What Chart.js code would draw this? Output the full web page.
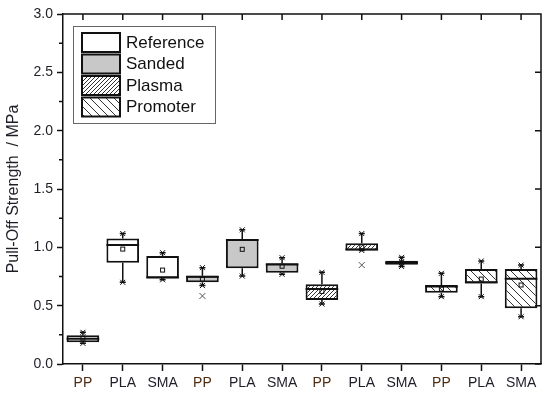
<!DOCTYPE html>
<html>
<head>
<meta charset="utf-8">
<script src="https://cdn.jsdelivr.net/npm/chart.js@4.4.0/dist/chart.umd.min.js"></script>
<style>
  html, body { margin: 0; padding: 0; background: #fff; }
  #wrap { width: 550px; height: 396px; }
</style>
</head>
<body>
<div id="wrap"><canvas id="chart" width="550" height="396"></canvas></div>
<script>
// categories along the x axis, 3 substrates per treatment
const categories = ['PP', 'PLA', 'SMA', 'PP', 'PLA', 'SMA', 'PP', 'PLA', 'SMA', 'PP', 'PLA', 'SMA']
const treatments = ['Reference', 'Sanded', 'Plasma', 'Promoter']

// box statistics (MPa)
const q1 = [0.186, 0.868, 0.734, 0.700, 0.820, 0.783, 0.548, 0.973, 0.851, 0.611, 0.690, 0.477]
const q3 = [0.247, 1.075, 0.925, 0.757, 1.071, 0.863, 0.683, 1.036, 0.885, 0.677, 0.815, 0.815]
const median = [0.217, 1.020, 0.742, 0.748, 1.063, 0.852, 0.643, 0.982, 0.868, 0.665, 0.700, 0.730]
const mean = [0.222, 0.985, 0.805, 0.726, 0.983, 0.838, 0.622, 1.005, 0.868, 0.642, 0.728, 0.677]
const whiskerMax = [0.272, 1.118, 0.954, 0.826, 1.150, 0.911, 0.786, 1.118, 0.914, 0.777, 0.883, 0.848]
const whiskerMin = [0.177, 0.700, 0.722, 0.672, 0.754, 0.769, 0.514, 0.973, 0.836, 0.577, 0.577, 0.405]
const outliers = [[], [], [], [0.583], [], [], [], [0.848], [], [], [], []]

const yTicks = [0, 0.5, 1.0, 1.5, 2.0, 2.5, 3.0]

function hatch(dir, step) {
    const c = document.createElement('canvas')
    c.width = step; c.height = step
    const g = c.getContext('2d')
    g.fillStyle = '#fff'
    g.fillRect(0, 0, step, step)
    g.strokeStyle = '#333'
    g.lineWidth = 1
    g.beginPath()
    for (let k = -1; k <= 1; k++) {
        if (dir === '/') {
            g.moveTo(k * step, step); g.lineTo(k * step + step, 0)
        } else {
            g.moveTo(k * step, 0); g.lineTo(k * step + step, step)
        }
    }
    g.stroke()
    return document.getElementById('chart').getContext('2d').createPattern(c, 'repeat')
}

const fills = ['#ffffff', '#c8c8c8', hatch('/', 4), hatch('\\', 8)]

const datasets = treatments.map((name, t) => ({
    label: name,
    data: categories.map((c, i) => Math.floor(i / 3) === t ? [q1[i], q3[i]] : null),
    backgroundColor: fills[t],
    borderColor: '#111',
    borderWidth: 2,
    borderSkipped: false,
    grouped: false,
    barPercentage: 0.82,
    categoryPercentage: 1
}))

function cross(g, x, y, s) {
    g.beginPath()
    g.moveTo(x - s, y - s); g.lineTo(x + s, y + s)
    g.moveTo(x + s, y - s); g.lineTo(x - s, y + s)
    g.stroke()
}

const boxExtras = {
    id: 'boxExtras',
    afterDatasetsDraw(chart) {
        const g = chart.ctx, xs = chart.scales.x, ys = chart.scales.y
        const half = xs.width / categories.length * 0.82 / 2
        g.save()
        g.strokeStyle = '#111'
        categories.forEach((c, i) => {
            const x = xs.getPixelForValue(i)
            // whiskers
            g.lineWidth = 1.5
            g.beginPath()
            g.moveTo(x, ys.getPixelForValue(q3[i])); g.lineTo(x, ys.getPixelForValue(whiskerMax[i]))
            g.moveTo(x, ys.getPixelForValue(q1[i])); g.lineTo(x, ys.getPixelForValue(whiskerMin[i]))
            g.moveTo(x - 3, ys.getPixelForValue(whiskerMax[i])); g.lineTo(x + 3, ys.getPixelForValue(whiskerMax[i]))
            g.moveTo(x - 3, ys.getPixelForValue(whiskerMin[i])); g.lineTo(x + 3, ys.getPixelForValue(whiskerMin[i]))
            g.stroke()
            g.lineWidth = 1
            cross(g, x, ys.getPixelForValue(whiskerMax[i]), 2.5)
            cross(g, x, ys.getPixelForValue(whiskerMin[i]), 2.5)
            // median
            g.lineWidth = 2
            g.beginPath()
            g.moveTo(x - half, ys.getPixelForValue(median[i])); g.lineTo(x + half, ys.getPixelForValue(median[i]))
            g.stroke()
            // mean
            g.lineWidth = 1
            g.strokeRect(x - 2, ys.getPixelForValue(mean[i]) - 2, 4, 4)
            g.strokeStyle = '#555'
            outliers[i].forEach(v => cross(g, x, ys.getPixelForValue(v), 3))
            g.strokeStyle = '#111'
        })
        g.restore()
    },
    afterDraw(chart) {
        const g = chart.ctx, a = chart.chartArea, xs = chart.scales.x, ys = chart.scales.y
        g.save()
        g.strokeStyle = '#111'
        g.lineWidth = 1.5
        g.beginPath()
        g.moveTo(a.left, a.top); g.lineTo(a.right, a.top); g.lineTo(a.right, a.bottom)
        categories.forEach((c, i) => {
            const x = xs.getPixelForValue(i)
            g.moveTo(x, a.top); g.lineTo(x, a.top + 6)
        })
        yTicks.forEach(v => {
            const y = ys.getPixelForValue(v)
            g.moveTo(a.right, y); g.lineTo(a.right - 6, y)
        })
        // minor ticks on the left axis
        for (let v = 0.25; v < 3; v += 0.5) {
            const y = ys.getPixelForValue(v)
            g.moveTo(a.left, y); g.lineTo(a.left - 4, y)
        }
        g.stroke()

        // legend inside the plot
        const lx = 73, ly = 26, lw = 142, lh = 97
        g.fillStyle = '#fff'
        g.fillRect(lx, ly, lw, lh)
        g.strokeStyle = '#666'
        g.lineWidth = 1
        g.strokeRect(lx + 0.5, ly + 0.5, lw, lh)
        g.font = '17px Arial, "Liberation Sans", sans-serif'
        g.textBaseline = 'middle'
        treatments.forEach((name, t) => {
            const sy = 33 + t * 21.5
            g.fillStyle = fills[t]
            g.fillRect(82, sy, 38, 19)
            g.strokeStyle = '#111'
            g.lineWidth = 2
            g.strokeRect(82, sy, 38, 19)
            g.fillStyle = '#111'
            g.fillText(name, 126, sy + 10)
        })
        g.restore()
    }
}

const ctx = document.querySelector('#chart').getContext('2d')
const chart = new Chart(ctx, {
    type: 'bar',
    data: {
        labels: categories,
        datasets: datasets
    },
    options: {
        responsive: false,
        animation: false,
        layout: {
            padding: { left: 0, top: 14, right: 9, bottom: 0 }
        },
        scales: {
            x: {
                offset: true,
                grid: {
                    offset: false,
                    drawOnChartArea: false,
                    drawTicks: true,
                    tickLength: 7,
                    tickWidth: 1.5,
                    color: '#111'
                },
                border: { display: true, color: '#111', width: 1.5 },
                ticks: {
                    padding: 4,
                    font: { size: 14, family: 'Arial, "Liberation Sans", sans-serif' },
                    color: c => categories[c.index] === 'PP' ? '#4e2c12' : '#1e1e28'
                },
                afterFit: s => { s.height = 32 }
            },
            y: {
                min: 0,
                max: 3,
                grid: {
                    drawOnChartArea: false,
                    drawTicks: true,
                    tickLength: 6,
                    tickWidth: 1.5,
                    color: '#111'
                },
                border: { display: true, color: '#111', width: 1.5 },
                ticks: {
                    stepSize: 0.5,
                    padding: 4,
                    font: { size: 14, family: 'Arial, "Liberation Sans", sans-serif' },
                    color: '#1e1e28',
                    callback: v => v.toFixed(1)
                },
                title: {
                    display: true,
                    text: 'Pull-Off Strength  / MPa',
                    padding: { top: 4, bottom: 0 },
                    font: { size: 16, family: 'Arial, "Liberation Sans", sans-serif' },
                    color: '#1e1e28'
                },
                afterFit: s => { s.width = 63 }
            }
        },
        plugins: {
            legend: { display: false },
            tooltip: { enabled: false }
        }
    },
    plugins: [boxExtras]
})
</script>
</body>
</html>
